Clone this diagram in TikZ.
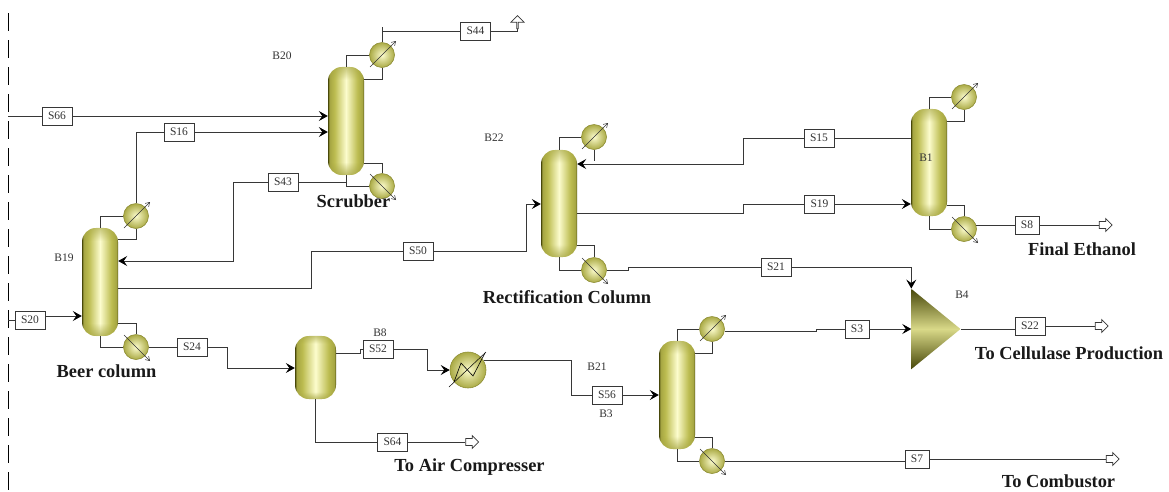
\documentclass[tikz,border=0pt]{standalone}
\usepackage{fontspec}
\setmainfont{Liberation Serif}
\usetikzlibrary{arrows.meta,calc,positioning,shapes.geometric,shapes.arrows,fadings}
\definecolor{crim}{RGB}{72,72,10}
\definecolor{cbody}{RGB}{188,188,80}
\definecolor{cglow}{RGB}{252,252,205}
\definecolor{cline}{RGB}{55,55,55}
\pgfdeclarehorizontalshading{vesselshade}{100bp}{color(0bp)=(crim); color(25bp)=(crim);
  color(27bp)=(cbody!80!crim); color(34bp)=(cbody); color(50bp)=(cglow); color(66bp)=(cbody); color(73bp)=(cbody!80!crim); color(75bp)=(crim); color(100bp)=(crim)}
\pgfdeclareverticalshading{capshade}{100bp}{color(0bp)=(pgftransparent!0); color(25bp)=(pgftransparent!25);
  color(31bp)=(pgftransparent!100); color(69bp)=(pgftransparent!100); color(75bp)=(pgftransparent!40); color(100bp)=(pgftransparent!0)}
\pgfdeclarefading{capfade}{\pgfuseshading{capshade}}
\tikzset{
  column/.style={rectangle,rounded corners=14pt,shading=vesselshade,draw=none,inner sep=0pt,
    minimum width=36pt,minimum height=108pt,
    postaction={fill=cbody!80!crim,path fading=capfade}},
  ball/.style={circle,inner color=cglow,outer color=cbody!85!crim,draw=cbody!60!crim,
    line width=0.6pt,inner sep=0pt,minimum size=25pt},
  exchanger/.style={ball,minimum size=36pt},
  splitter/.style={isosceles triangle,isosceles triangle stretches,inner sep=0pt,draw=none,
    top color=crim,bottom color=crim,middle color=cbody!55!cglow,
    minimum width=80pt,minimum height=49pt,anchor=apex},
  tag/.style={rectangle,draw=cline,fill=white,line width=0.8pt,inner sep=0pt,
    minimum width=30pt,minimum height=18pt,font=\fontsize{11.5}{12}\selectfont,text=black!80},
  unitlab/.style={font=\fontsize{11.5}{12}\selectfont,text=black!80,inner sep=0pt},
  caption/.style={font=\fontsize{18.4}{19}\selectfont\bfseries,text=black!90,inner sep=0pt},
  stream/.style={draw=cline,line width=0.9pt},
  feed/.style={stream,-{Stealth[length=9pt,width=10pt,inset=3.5pt,black]}},
  outlet/.style={single arrow,draw=cline,fill=white,line width=0.7pt,inner xsep=0pt,inner ysep=3pt,
    minimum height=13pt,minimum width=13pt,single arrow head extend=3pt},
  duty/.style={draw=black!80,line width=0.5pt,-{Straight Barb[length=4pt,width=5pt]}}
}
% overhead condenser and bottom reboiler, each with its slanted duty arrow
\newcommand{\cond}[3]{\node[ball] (#1) at (#2,#3) {};
  \draw[duty] ([shift={(-12,12)}]#1.center) -- ([shift={(14,-14)}]#1.center);}
\newcommand{\reb}[3]{\node[ball] (#1) at (#2,#3) {};
  \draw[duty] ([shift={(-12,-12)}]#1.center) -- ([shift={(14,14)}]#1.center);}
\newcommand{\looptop}[3]{\draw[stream] (#1.north) |- (#2.west);
  \draw[stream] (#2.south) |- (#1.east |- 0,#3);}
\newcommand{\loopbot}[3]{\draw[stream] (#1.south) |- (#2.west);
  \draw[stream] (#1.east |- 0,#3) -| (#2.north);}
\begin{document}
\begin{tikzpicture}[x=1pt,y=-1pt]
  \useasboundingbox (0,0) rectangle (1169,491);
  % flowsheet boundary
  \coordinate (bndtop) at (8,13);
  \coordinate (bndbot) at (8,490);
  \coordinate (bnd66) at (8,116);
  \coordinate (bnd20) at (8,320);
  \draw[draw=black,line width=0.8pt,dash pattern=on 18pt off 9pt] (bndtop) -- (bndbot);
  % columns and vessels
  \node[column,minimum height=108pt] (colB20) at (346,121) {};
  \node[column,minimum height=108pt] (colB19) at (100,282) {};
  \node[column,minimum height=107pt] (colB22) at (559,203.5) {};
  \node[column,minimum height=107pt] (colB1) at (929,162.5) {};
  \node[column,minimum height=108pt] (colB3) at (677,395) {};
  \node[column,minimum width=41pt,minimum height=63pt] (colB8) at (315.5,367.5) {};
  \node[exchanger] (hxB21) at (468,370) {};
  \draw[draw=black,line width=0.5pt] (449,387) -- (486,352);
  \draw[draw=black,line width=0.6pt] (454,382) -- (461,363) -- (473,376) -- (485,353);
  \node[splitter] (splB4) at (961,329) {};
  % condensers and reboilers
  \cond{condB20}{382}{55}
  \reb{rebB20}{382}{186}
  \cond{condB19}{136}{216}
  \reb{rebB19}{136}{347}
  \cond{condB22}{594}{137}
  \reb{rebB22}{594}{270}
  \cond{condB1}{964}{97}
  \reb{rebB1}{964}{229}
  \cond{condB3}{712}{329}
  \reb{rebB3}{712}{461}
  \looptop{colB20}{condB20}{79}
  \loopbot{colB20}{rebB20}{163}
  \looptop{colB19}{condB19}{239}
  \loopbot{colB19}{rebB19}{323}
  \loopbot{colB22}{rebB22}{245}
  \looptop{colB1}{condB1}{121}
  \loopbot{colB1}{rebB1}{205}
  \looptop{colB3}{condB3}{353}
  \loopbot{colB3}{rebB3}{437}
  \coordinate (ret22) at (594,161);
  \draw[stream] (colB22.north) |- (condB22.west);
  \draw[stream] (condB22.south) -- (ret22);
  % stream tags
  \node[tag] (S66) at (57,116) {S66};
  \node[tag] (S16) at (179,132) {S16};
  \node[tag] (S43) at (283,182) {S43};
  \node[tag] (S44) at (475.5,31) {S44};
  \node[tag] (S20) at (30,320) {S20};
  \node[tag] (S50) at (418,251) {S50};
  \node[tag] (S24) at (192,347) {S24};
  \node[tag] (S52) at (378,349) {S52};
  \node[tag] (S64) at (392.5,442) {S64};
  \node[tag] (S56) at (607,395) {S56};
  \node[tag] (S15) at (819,138) {S15};
  \node[tag] (S19) at (819.5,204) {S19};
  \node[tag] (S21) at (776,267) {S21};
  \node[tag,minimum width=24pt] (S8) at (1027,225) {S8};
  \node[tag,minimum width=24pt] (S3) at (857,329) {S3};
  \node[tag] (S22) at (1030,326) {S22};
  \node[tag,minimum width=24pt] (S7) at (917,459) {S7};
  % product outlets
  \node[outlet,shape border rotate=90] (outS44) at (517.5,22.5) {};
  \node[outlet] (outS64) at (470.5,442) {};
  \node[outlet] (outS8) at (1104,225) {};
  \node[outlet] (outS22) at (1100,326) {};
  \node[outlet] (outS7) at (1111,459) {};
  % bends
  \coordinate (top44) at (382,27);
  \coordinate (b43) at (233,261);
  \coordinate (b50a) at (311,251);
  \coordinate (b50b) at (526,204);
  \coordinate (b24) at (227,368);
  \coordinate (jog52) at (360,353);
  \coordinate (b52) at (427,370);
  \coordinate (b21) at (571,395);
  \coordinate (b15) at (743,164);
  \coordinate (b19) at (743,213);
  \coordinate (jog21) at (628,267);
  \coordinate (jog3) at (816,329);
  % streams
  \draw[stream] (bnd66) -- (S66.west);
  \draw[feed] (S66.east) -- (S66.east -| colB20.west);
  \draw[stream] (condB19.north) |- (S16.west);
  \draw[feed] (S16.east) -- (S16.east -| colB20.west);
  \draw[stream] (S43.east) -- (S43.east -| colB20.south);
  \draw[feed] (S43.west) -| (b43) -- (b43 -| colB19.east);
  \draw[stream] (condB20.north) -- (top44);
  \draw[stream] (top44 |- S44.west) -- (S44.west);
  \draw[stream] (S44.east) -| (outS44.tail);
  \draw[stream] (bnd20) -- (S20.west);
  \draw[feed] (S20.east |- 0,316) -- (colB19.west |- 0,316);
  \draw[stream] (colB19.east |- 0,288) -| (b50a) -- (S50.west);
  \draw[feed] (S50.east) -| (b50b) -- (b50b -| colB22.west);
  \draw[stream] (rebB19.east) -- (S24.west);
  \draw[feed] (S24.east) -| (b24) -- (b24 -| colB8.west);
  \draw[stream] (colB8.east |- jog52) -- (jog52) |- (S52.west);
  \draw[feed] (S52.east) -| (b52) -- (hxB21.west);
  \draw[stream] (colB8.south) |- (S64.west);
  \draw[stream] (S64.east) -- (outS64.tail);
  \draw[stream] (hxB21.30) -| (b21) -- (S56.west);
  \draw[feed] (S56.east) -- (S56.east -| colB3.west);
  \draw[stream] (S15.east) -- (S15.east -| colB1.west);
  \draw[feed] (S15.west) -| (b15) -- (b15 -| colB22.east);
  \draw[stream] (colB22.east |- b19) -- (b19) |- (S19.west);
  \draw[feed] (S19.east) -- (S19.east -| colB1.west);
  \draw[stream] (rebB1.15) -- (rebB1.15 -| S8.west);
  \draw[stream] (S8.east) -- (outS8.tail);
  \draw[stream] (rebB22.east) -| (jog21) -- (S21.west);
  \draw[feed] (S21.east) -| (splB4.left corner);
  \draw[stream] (condB3.-10) -| (jog3) -- (S3.west);
  \draw[feed] (S3.east) -- (S3.east -| splB4.lower side);
  \draw[stream] (splB4.apex) -- (splB4.apex -| S22.west);
  \draw[stream] (S22.east) -- (outS22.tail);
  \draw[stream] (rebB3.east) -- (rebB3.east -| S7.west);
  \draw[stream] (S7.east) -- (outS7.tail);
  % block names
  \node[unitlab] (labB20) at (282,56) {B20};
  \node[unitlab] (labB22) at (494,138) {B22};
  \node[unitlab] (labB19) at (64,258) {B19};
  \node[unitlab] (labB1) at (926,158) {B1};
  \node[unitlab] (labB8) at (380,333) {B8};
  \node[unitlab] (labB21) at (597,367) {B21};
  \node[unitlab] (labB3) at (606,414) {B3};
  \node[unitlab] (labB4) at (962,295) {B4};
  % captions
  \node[caption] (capScrub) at (353.5,201) {Scrubber};
  \node[caption] (capBeer) at (106.5,371) {Beer column};
  \node[caption] (capRect) at (567,297) {Rectification Column};
  \node[caption] (capEth) at (1082,249) {Final Ethanol};
  \node[caption] (capAir) at (469.5,467) {To Air Compresser};
  \node[caption] (capCell) at (1069,353) {To Cellulase Production};
  \node[caption] (capComb) at (1058.5,481) {To Combustor};
\end{tikzpicture}
\end{document}
